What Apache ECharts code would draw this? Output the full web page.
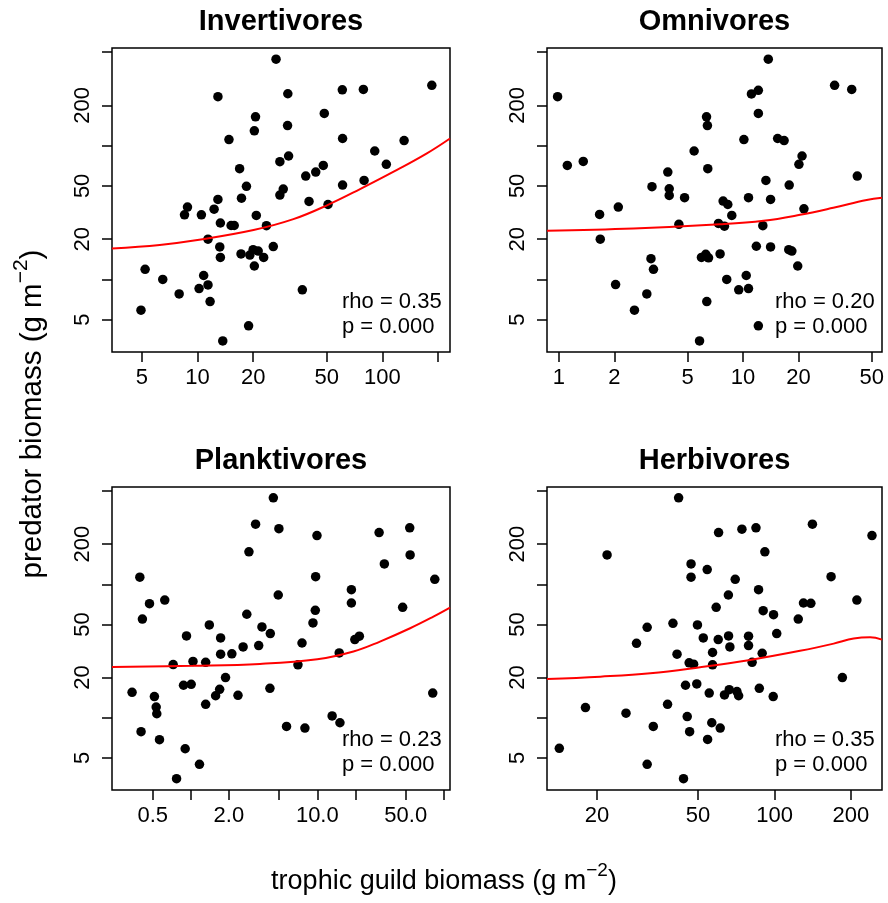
<!DOCTYPE html>
<html><head><meta charset="utf-8">
<script src="https://cdn.jsdelivr.net/npm/echarts@6/dist/echarts.min.js"></script>
<style>html,body{margin:0;padding:0;background:#fff}#c{width:888px;height:903px}</style>
</head><body><div id="c"></div>
<script>
// ---------- data (values in g m^-2) ----------
const titles = ['Invertivores', 'Omnivores', 'Planktivores', 'Herbivores'];
const rhoValues = ['0.35', '0.20', '0.23', '0.35'];
const pValues = ['0.000', '0.000', '0.000', '0.000'];

const yRange = [2.87, 536];
const yTicks = [5, 10, 20, 50, 100, 200, 500];
const yLabels = [5, 20, 50, 200];

const invRange = [3.45, 232], invTicks = [5, 10, 20, 50, 100, 200], invLabels = [5, 10, 20, 50, 100];
const omnRange = [0.861, 56.8], omnTicks = [1, 2, 5, 10, 20, 50], omnLabels = [1, 2, 5, 10, 20, 50];
const plaRange = [0.238, 112], plaTicks = [0.5, 1, 2, 5, 10, 20, 50, 100], plaLabels = [0.5, 2, 10, 50];
const herRange = [12.7, 265], herTicks = [20, 50, 100, 200], herLabels = [20, 50, 100, 200];

const invX = [4.95,5.21,6.49,7.96,8.51,8.83,10.2,10.5,10.8,11.4,11.7,11.4,12.3,12.9,12.9,13.2,13.3,13.3,13.7,14.8,15.2,15.8,16.9,17.2,17.3,18.4,18.9,19.2,20.0,20.3,20.3,20.6,20.8,21.3,22.8,23.6,25.7,26.6,27.9,27.9,29.1,30.7,30.8,31.1,36.9,38.5,40.1,43.6,47.9,48.5,50.8,60.7,60.9,60.9,78.9,79.6,90.9,105,131,185];
const invY = [5.89,11.9,10.0,7.80,30.4,34.7,8.55,30.4,10.7,9.10,6.84,20.0,33.5,232,39.6,17.5,26.4,14.6,3.47,111,25.3,25.3,67.2,15.5,40.5,49.6,4.50,15.2,16.7,12.6,129,164,30.1,16.3,14.6,25.2,17.6,442,75.8,42.7,47.3,141,244,83.6,8.36,59.2,38.3,63.4,71.1,174,36.3,261,113,50.7,263,54.9,91.1,72.4,109,282];
const invFitX = [3.45,6.25,10,20.1,33.0,50.8,75.7,115,174,232];
const invFitY = [17.0,18.1,19.7,23.4,28.2,36.1,47.3,63.8,87.5,113];

const omnX = [0.983,1.110,1.355,1.662,1.676,2.03,2.10,2.57,3.00,3.16,3.20,3.26,3.90,3.97,3.97,4.48,4.81,5.42,5.80,5.94,6.27,6.33,6.35,6.40,6.43,6.49,7.35,7.50,7.79,7.92,8.15,8.26,8.68,9.47,10.1,10.4,10.7,10.7,11.1,12.1,12.1,12.1,11.8,12.8,13.3,13.7,14.1,14.1,15.4,16.7,17.7,17.8,18.4,19.8,20.1,20.9,21.4,31.4,38.9,41.7];
const omnY = [232,71.1,76.2,30.6,20.0,9.16,34.7,5.89,7.80,14.3,49.3,11.9,63.4,47.6,42.4,25.8,40.8,91.1,3.47,14.6,15.4,164,6.84,141,67.2,14.5,26.2,15.5,38.5,25.0,10.0,36.3,30.1,8.36,111,10.7,8.55,40.8,243,259,4.50,174,17.7,25.2,54.9,442,17.5,39.6,113,109,16.7,50.7,16.3,12.6,72.4,83.6,33.7,282,263,59.2];
const omnFitX = [0.861,2.54,7.50,12.9,20.4,30.9,46.9,56.8];
const omnFitY = [23.1,24.0,25.8,27.4,30.4,34.3,39.2,40.8];

const plaX = [0.343,0.395,0.404,0.414,0.471,0.515,0.532,0.538,0.565,0.622,0.725,0.771,0.875,0.902,0.924,1.006,1.04,1.17,1.31,1.31,1.40,1.57,1.69,1.72,1.72,1.88,2.11,2.36,2.59,2.77,2.88,3.25,3.44,3.65,4.22,4.25,4.49,4.91,4.97,5.71,7.03,7.57,7.98,9.24,9.64,9.70,9.94,13.1,14.9,15.1,18.6,18.6,19.8,21.5,30.8,33.9,47.3,53.8,54.2,81.8,84.9];
const plaY = [15.5,113,7.85,54.9,71.6,14.4,12.0,10.7,6.84,76.2,25.0,3.49,17.5,5.85,41.0,17.8,26.4,4.47,26.0,12.6,49.6,14.6,16.3,39.6,29.9,20.0,30.1,14.7,33.9,59.6,175,282,34.7,47.9,16.6,42.7,445,83.1,261,8.60,24.9,36.3,8.36,51.3,63.8,114,232,10.3,30.6,9.16,91.1,72.4,38.5,40.8,244,142,67.2,265,166,15.3,109];
const plaFitX = [0.238,1.04,3.52,10,19.3,31.3,54.2,82.8,112];
const plaFitY = [24.0,24.5,25.3,27.4,31.3,37.2,46.8,57.2,66.8];

const herX = [14.2,18.0,21.9,26.0,28.6,31.5,31.5,33.3,37.9,39.8,41.3,41.9,43.8,44.6,45.3,46.1,46.3,46.9,46.9,48.0,49.4,49.7,52.4,54.3,54.5,55.3,56.6,57.0,57.0,58.9,60.0,60.2,61.1,63.5,65.8,65.9,66.3,66.7,70.0,71.1,72.2,74.4,79.0,79.0,81.6,84.5,86.5,87.1,89.4,90.2,91.6,98.8,99.1,102,124,130,139,141,167,185,211,242];
const herY = [5.89,11.9,166,10.8,36.1,47.6,4.47,8.60,12.6,51.0,29.9,445,3.49,17.5,10.2,25.8,7.85,142,113,25.2,17.9,49.6,39.6,129,6.87,15.3,9.16,30.8,24.9,67.2,38.5,244,8.36,14.8,83.1,41.0,16.2,33.9,109,15.7,14.6,259,40.8,34.7,26.0,265,91.1,16.6,30.4,63.4,175,14.4,59.2,42.7,54.9,72.4,72.0,282,114,20.0,76.2,232];
const herFitX = [12.7,20.6,32.4,50.9,80.2,126,171,205,238,265];
const herFitY = [19.5,20.3,21.5,23.9,27.1,31.7,35.9,39.2,40.1,38.5];

// ---------- layout ----------
const FONT = '"Liberation Sans", Arial, Helvetica, sans-serif';
const L = v => Math.log10(v);
const panels = [
  {x: invX, y: invY, fx: invFitX, fy: invFitY, range: invRange, ticks: invTicks, labels: invLabels, dec: 0, box: [112, 48, 338, 304], txt: [342, 302]},
  {x: omnX, y: omnY, fx: omnFitX, fy: omnFitY, range: omnRange, ticks: omnTicks, labels: omnLabels, dec: 0, box: [547, 48, 335, 304], txt: [775, 302]},
  {x: plaX, y: plaY, fx: plaFitX, fy: plaFitY, range: plaRange, ticks: plaTicks, labels: plaLabels, dec: 1, box: [112, 487, 338, 303], txt: [342, 740]},
  {x: herX, y: herY, fx: herFitX, fy: herFitY, range: herRange, ticks: herTicks, labels: herLabels, dec: 0, box: [547, 487, 335, 303], txt: [775, 740]}
];

const fmt = dec => v => { const n = Math.pow(10, v); return dec ? n.toFixed(dec) : String(Math.round(n)); };

const canvas = document.createElement('canvas');
const ctx = canvas.getContext('2d');
function tw(s, size) { ctx.font = size + 'px "Liberation Sans"'; return ctx.measureText(s).width; }

function axisTitle(main, cx, cy, rot, F) {
  const s2 = '\u22122', s3 = ')';
  const FS = Math.round(F * 0.7);
  const w1 = tw(main, F), w2 = tw(s2, FS), w3 = tw(s3, F);
  const x0 = -(w1 + w2 + w3) / 2;
  return {
    type: 'group', x: cx, y: cy, rotation: rot ? Math.PI / 2 : 0,
    children: [
      {type: 'text', x: x0, y: 0, style: {text: main, fontSize: F, fontFamily: FONT, fill: '#000', textAlign: 'left', textVerticalAlign: 'middle'}},
      {type: 'text', x: x0 + w1, y: -F * 0.4, style: {text: s2, fontSize: FS, fontFamily: FONT, fill: '#000', textAlign: 'left', textVerticalAlign: 'middle'}},
      {type: 'text', x: x0 + w1 + w2, y: 0, style: {text: s3, fontSize: F, fontFamily: FONT, fill: '#000', textAlign: 'left', textVerticalAlign: 'middle'}}
    ]
  };
}

const graphic = [];
panels.forEach((p, i) => {
  graphic.push({type: 'text', x: p.box[0] + p.box[2] / 2, y: p.box[1] - 26,
    style: {text: titles[i], fontSize: 29, fontWeight: 'bold', fontFamily: FONT, fill: '#000', textAlign: 'center', textVerticalAlign: 'middle'}});
  graphic.push({type: 'text', x: p.txt[0], y: p.txt[1],
    style: {text: 'rho = ' + rhoValues[i], fontSize: 22, fontFamily: FONT, fill: '#000', textAlign: 'left', textVerticalAlign: 'middle'}});
  graphic.push({type: 'text', x: p.txt[0], y: p.txt[1] + 25,
    style: {text: 'p = ' + pValues[i], fontSize: 22, fontFamily: FONT, fill: '#000', textAlign: 'left', textVerticalAlign: 'middle'}});
});
graphic.push(axisTitle('trophic guild biomass (g m', 444, 882, false, 27));
graphic.push(axisTitle('predator biomass (g m', 33, 414, true, 29.5));

const tickStyle = {color: '#000', width: 1.5};
const option = {
  animation: false,
  backgroundColor: '#fff',
  grid: panels.map(p => ({left: p.box[0], top: p.box[1], width: p.box[2], height: p.box[3], show: true, borderColor: '#000', borderWidth: 1.5, backgroundColor: 'transparent'})),
  xAxis: panels.map((p, i) => ({
    type: 'value', gridIndex: i, min: L(p.range[0]), max: L(p.range[1]),
    axisLine: {show: false, onZero: false}, splitLine: {show: false},
    axisTick: {show: true, length: 10, customValues: p.ticks.map(L), lineStyle: tickStyle},
    axisLabel: {customValues: p.labels.map(L), formatter: fmt(p.dec), fontSize: 22, fontFamily: FONT, color: '#000', margin: 15}
  })),
  yAxis: panels.map((p, i) => ({
    type: 'value', gridIndex: i, min: L(yRange[0]), max: L(yRange[1]),
    axisLine: {show: false, onZero: false}, splitLine: {show: false},
    axisTick: {show: true, length: 10, customValues: yTicks.map(L), lineStyle: tickStyle},
    axisLabel: {customValues: yLabels.map(L), formatter: fmt(0), rotate: 90, fontSize: 22, fontFamily: FONT, color: '#000', margin: 18}
  })),
  series: panels.flatMap((p, i) => [
    {type: 'scatter', xAxisIndex: i, yAxisIndex: i, symbol: 'circle', symbolSize: 9.5, silent: true,
     itemStyle: {color: '#000', opacity: 1}, data: p.x.map((v, j) => [L(v), L(p.y[j])]), z: 2},
    {type: 'line', xAxisIndex: i, yAxisIndex: i, smooth: 0.4, showSymbol: false, silent: true,
     lineStyle: {color: '#ff0000', width: 2}, data: p.fx.map((v, j) => [L(v), L(p.fy[j])]), z: 3}
  ]),
  graphic: graphic
};
echarts.init(document.getElementById('c')).setOption(option);
</script></body></html>
